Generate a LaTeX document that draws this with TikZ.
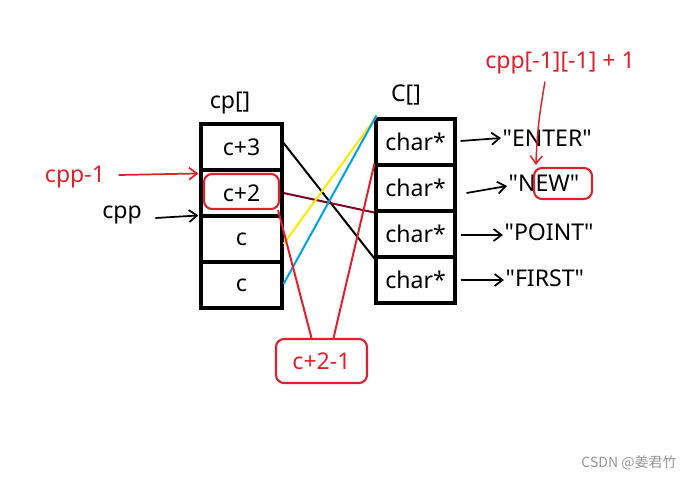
\documentclass[tikz,border=0pt]{standalone}
\usepackage{fontspec}
\setmainfont{Noto Sans}
\newfontfamily\cjk{Noto Sans CJK SC}
\usetikzlibrary{arrows.meta,calc}
\definecolor{myred}{RGB}{226,32,44}
\definecolor{myyellow}{RGB}{255,232,0}
\definecolor{myblue}{RGB}{0,162,232}
\definecolor{mymaroon}{RGB}{128,0,32}
\newcommand{\qq}{\textquotedbl}
\begin{document}
\begin{tikzpicture}[x=0.75pt,y=-0.75pt,
  txt/.style={font=\fontsize{17.3pt}{19pt}\selectfont,inner sep=1pt},
  cpcell/.style={draw=black,line width=2.3pt,minimum width=81*0.75pt,minimum height=46*0.75pt,inner sep=0pt,txt},
  ccell/.style={draw=black,line width=2.3pt,minimum width=79*0.75pt,minimum height=46*0.75pt,inner sep=0pt,txt},
  redbox/.style={draw=myred,line width=1.6pt,rounded corners=6pt,inner sep=0pt},
  wire/.style={line width=1.5pt},
  ptr/.style={line width=1.3pt,-{Straight Barb[length=6pt,width=9pt]}}]
\useasboundingbox (0,0) rectangle (695,479);

% cp[] array
\node[txt] (cplbl) at (230,103) {cp[]};
\node[cpcell] (cp1) at (241.5,147) {c+3};
\node[cpcell] (cp2) at (241.5,193) {c+2};
\node[cpcell] (cp3) at (241.5,239) {c};
\node[cpcell] (cp4) at (241.5,285) {c};
\node[redbox,minimum width=75*0.75pt,minimum height=35*0.75pt] (c2box) at (241.5,191.5) {};

% C[] array
\node[txt] (clbl) at (406,95) {C[]};
\node[ccell] (C1) at (415.5,142) {char*};
\node[ccell] (C2) at (415.5,188) {char*};
\node[ccell] (C3) at (415.5,234) {char*};
\node[ccell] (C4) at (415.5,280) {char*};

% strings
\node[txt,anchor=west] (s1) at (501,138) {\qq ENTER\qq};
\node[txt,anchor=west] (s2) at (507,183) {\qq NEW\qq};
\node[txt,anchor=west] (s3) at (503,232) {\qq POINT\qq};
\node[txt,anchor=west] (s4) at (504,278) {\qq FIRST\qq};
\node[redbox,minimum width=58*0.75pt,minimum height=31*0.75pt] (ewbox) at (563,183.5) {};

\draw[ptr] (C1.east) ++(4,-1) -- (s1.west);
\draw[ptr] ($(C2.east)+(10,5)$) -- ($(s2.west)+(0,3)$);
\draw[ptr] ($(C3.east)+(4,1)$) -- ($(s3.west)+(0,3)$);
\draw[ptr] ($(C4.east)+(4,0)$) -- ($(s4.west)+(0,2)$);

% crossing connectors
\draw[wire,black] ($(cp1.east)+(0,-4)$) -- (C3.south west);
\draw[wire,mymaroon] (cp2.east) -- (C2.south west);
\draw[wire,myyellow] ($(cp3.east)+(0,5)$) -- ($(C1.north west)+(2,-1)$);
\draw[wire,myblue] ($(cp4.east)+(0,-1)$) -- ($(C1.north west)+(2,-2)$);

% c+2-1 label
\node[redbox,minimum width=91*0.75pt,minimum height=44*0.75pt,txt,text=myred] (cm) at (321.5,361) {c+2-1};
\draw[wire,myred] ($(c2box.south east)+(-2,0)$) -- ($(cm.north)+(-10,0)$);
\draw[wire,myred] (C2.north west) -- ($(cm.north)+(12,0)$);

% left pointers
\node[txt,text=myred] (cppm) at (75,177) {cpp-1};
\draw[ptr,myred] ($(cppm.east)+(12,-2)$) -- ($(cp2.north west)+(-1,5)$);
\node[txt] (cpp) at (122,215) {cpp};
\draw[ptr] ($(cpp.east)+(12,3)$) -- ($(cp3.north west)+(-1,1)$);

% top red annotation
\node[txt,text=myred] (idx) at (560,63) {cpp[-1][-1] + 1};
\draw[ptr,myred,line width=1.1pt] ($(idx.south)+(-15,6)$) to[out=-100,in=88] ($(ewbox.north west)+(3,-2)$);

% watermark
\node[font=\cjk\fontsize{10.5pt}{12pt}\selectfont,text={rgb,255:red,150;green,150;blue,150}] (wm) at (629,463) {CSDN @姜君竹};
\end{tikzpicture}
\end{document}
